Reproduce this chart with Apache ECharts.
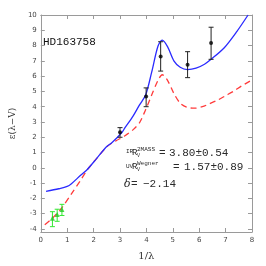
<!DOCTYPE html>
<html><head><meta charset="utf-8">
<script src="https://cdn.jsdelivr.net/npm/echarts@6/dist/echarts.min.js"></script>
<style>html,body{margin:0;padding:0;background:#fff}#c{width:266px;height:266px}</style>
</head><body><div id="c"></div>
<script>
// Blue solid model curve
var blueX = [0.2,0.68,1.0,1.16,1.52,1.76,2.11,2.47,2.71,3.07,3.19,3.5,3.74,3.97,4.2,4.44,4.6,4.8,5.04,5.28,5.56,5.88,6.2,6.45,6.95,7.43,7.85];
var blueY = [-1.54,-1.37,-1.22,-1.04,-0.47,-0.11,0.6,1.35,1.67,2.31,2.63,3.4,4.12,4.76,6.26,7.97,8.35,7.93,7.0,6.58,6.43,6.52,6.78,7.1,7.86,8.93,10.0];
// Red dashed curve
var redX = [0.15,0.44,0.8,1.16,1.52,1.76,2.11,2.5,2.83,3.19,3.5,3.74,3.97,4.2,4.44,4.6,4.8,5.04,5.28,5.52,5.82,6.12,6.4,6.71,7.0,7.31,7.6,7.97];
var redY = [-3.72,-3.3,-2.6,-1.7,-0.78,-0.13,0.6,1.38,1.75,2.1,2.5,2.95,3.8,4.76,5.72,6.09,5.72,4.87,4.23,3.97,3.9,4.0,4.2,4.44,4.72,5.02,5.35,5.72];
// Black observed points with error bars
var blackX = [3.0,3.99,4.54,5.56,6.45];
var blackY = [2.33,4.66,7.29,6.75,8.16];
var blackLo = [2.0,4.0,6.33,5.9,7.1];
var blackHi = [2.63,5.23,8.25,7.6,9.2];
// Green (2MASS) points with error bars
var greenX = [0.44,0.62,0.8];
var greenY = [-3.3,-3.06,-2.72];
var greenLo = [-3.85,-3.5,-3.12];
var greenHi = [-2.87,-2.71,-2.39];
// Tick labels
var yTicks = [-4,-3,-2,-1,0,1,2,3,4,5,6,7,8,9,10];
var xTicks = [0,1,2,3,4,5,6,7,8];

function zip(a,b){return a.map(function(v,i){return [v,b[i]];});}
function errRender(color, half){
  return function(params, api){
    var x = api.value(0), lo = api.value(1), hi = api.value(2);
    var p1 = api.coord([x, lo]), p2 = api.coord([x, hi]);
    var st = {stroke: color, lineWidth: 1};
    return {type:'group', children:[
      {type:'line', shape:{x1:p1[0],y1:p1[1],x2:p2[0],y2:p2[1]}, style:st},
      {type:'line', shape:{x1:p1[0]-half,y1:p1[1],x2:p1[0]+half,y2:p1[1]}, style:st},
      {type:'line', shape:{x1:p2[0]-half,y1:p2[1],x2:p2[0]+half,y2:p2[1]}, style:st}
    ]};
  };
}
var axisCol = '#9a9a9a';
var lblStyle = {color:'#444', fontSize:7, fontFamily:'DejaVu Sans'};
var txt = '#2a2a2a';
var chart = echarts.init(document.getElementById('c'), null, {renderer:'canvas'});
chart.setOption({
  animation:false,
  grid:{left:28, right:14, top:15, bottom:29},
  xAxis:[{
    type:'value', min:0, max:8, interval:1, position:'bottom',
    axisLine:{show:true, onZero:false, lineStyle:{color:axisCol}},
    axisTick:{show:true, inside:true, length:4, lineStyle:{color:axisCol}},
    axisLabel:Object.assign({margin:5, showMinLabel:true, showMaxLabel:true, customValues: xTicks}, lblStyle),
    splitLine:{show:false},
    name:'1/λ', nameLocation:'middle', nameGap:19,
    nameTextStyle:{fontFamily:'DejaVu Serif', fontSize:10, color:'#333'}
  },{
    type:'value', min:0, max:8, interval:1, position:'top',
    axisLine:{show:true, onZero:false, lineStyle:{color:axisCol}},
    axisTick:{show:true, inside:true, length:4, lineStyle:{color:axisCol}},
    axisLabel:{show:false}, splitLine:{show:false}
  }],
  yAxis:[{
    type:'value', min:-4.2, max:10, position:'left',
    axisLine:{show:true, onZero:false, lineStyle:{color:axisCol}},
    axisTick:{show:true, inside:true, length:4, customValues: yTicks, lineStyle:{color:axisCol}},
    axisLabel:Object.assign({margin:4, customValues: yTicks}, lblStyle),
    splitLine:{show:false},
    name:'ε(λ−V)', nameLocation:'middle', nameGap:17, nameRotate:90,
    nameTextStyle:{fontFamily:'DejaVu Serif', fontSize:9, color:'#333'}
  },{
    type:'value', min:-4.2, max:10, position:'right',
    axisLine:{show:true, onZero:false, lineStyle:{color:axisCol}},
    axisTick:{show:true, inside:true, length:4, customValues: yTicks, lineStyle:{color:axisCol}},
    axisLabel:{show:false}, splitLine:{show:false}
  }],
  series:[
    {type:'line', data:zip(redX, redY), showSymbol:false, smooth:0.3, clip:true,
     lineStyle:{color:'#ff3b3b', width:1.3, type:[6,4]}, z:2},
    {type:'line', data:zip(blueX, blueY), showSymbol:false, smooth:0.3, clip:true,
     lineStyle:{color:'#2a2aff', width:1.3}, z:3},
    {type:'custom', data:blackX.map(function(x,i){return [x, blackLo[i], blackHi[i]];}),
     renderItem:errRender('#222', 2.5), z:4},
    {type:'scatter', data:zip(blackX, blackY), symbol:'circle', symbolSize:4,
     itemStyle:{color:'#000'}, z:5},
    {type:'custom', data:greenX.map(function(x,i){return [x, greenLo[i], greenHi[i]];}),
     renderItem:errRender('#33e833', 2.5), z:4},
    {type:'scatter', data:zip(greenX, greenY), symbol:'triangle', symbolSize:5,
     itemStyle:{color:'#22cc22'}, z:5}
  ],
  graphic:[
    {type:'text', left:43, top:37, style:{text:'HD163758', fontFamily:'Liberation Mono', fontSize:11, fill:'#111'}},
    {type:'text', x:126, y:148, style:{text:'IR', fontFamily:'Liberation Mono', fontSize:6, fill:txt}},
    {type:'text', x:132, y:148, style:{text:'R', fontFamily:'Liberation Mono', fontSize:9, fill:txt}},
    {type:'text', x:137, y:146, style:{text:'2MASS', fontFamily:'Liberation Mono', fontSize:6, fill:txt}},
    {type:'text', x:137, y:153, style:{text:'V', fontFamily:'Liberation Mono', fontSize:5, fill:txt}},
    {type:'text', x:159, y:148, style:{text:'=', fontFamily:'Liberation Mono', fontSize:11, fill:txt}},
    {type:'text', x:169, y:148, style:{text:'3.80±0.54', fontFamily:'Liberation Mono', fontSize:11, fill:txt}},
    {type:'text', x:126, y:163, style:{text:'UV', fontFamily:'Liberation Mono', fontSize:6, fill:txt}},
    {type:'text', x:132, y:162, style:{text:'R', fontFamily:'Liberation Mono', fontSize:9, fill:txt}},
    {type:'text', x:137, y:160, style:{text:'Wegner', fontFamily:'Liberation Mono', fontSize:6, fill:txt}},
    {type:'text', x:137, y:167, style:{text:'V', fontFamily:'Liberation Mono', fontSize:5, fill:txt}},
    {type:'text', x:173, y:162, style:{text:'=', fontFamily:'Liberation Mono', fontSize:11, fill:txt}},
    {type:'text', x:184, y:162, style:{text:'1.57±0.89', fontFamily:'Liberation Mono', fontSize:11, fill:txt}},
    {type:'text', x:124, y:179, style:{text:'δ', fontFamily:'DejaVu Serif', fontStyle:'italic', fontSize:11, fill:txt}},
    {type:'text', x:131, y:179, style:{text:'=', fontFamily:'Liberation Mono', fontSize:11, fill:txt}},
    {type:'text', x:143, y:179, style:{text:'−2.14', fontFamily:'Liberation Mono', fontSize:11, fill:txt}}
  ]
});
</script></body></html>
